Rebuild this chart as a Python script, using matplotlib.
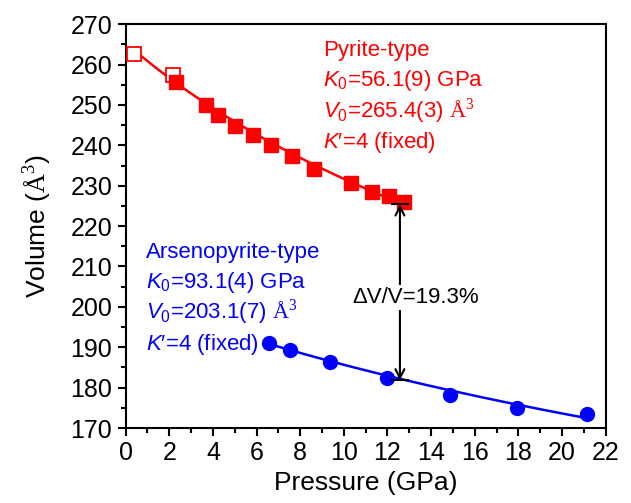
import numpy as np
import matplotlib
matplotlib.use("Agg")
import matplotlib.pyplot as plt
from matplotlib.ticker import MultipleLocator

# ---- data ----
pyr_open_p = [0.37, 2.16]
pyr_open_v = [262.7, 257.3]
pyr_p = [2.33, 3.69, 4.24, 5.00, 5.83, 6.65, 7.61, 8.64, 10.35, 11.28, 12.05, 12.75]
pyr_v = [255.7, 249.9, 247.4, 244.8, 242.6, 240.0, 237.4, 234.1, 230.7, 228.5, 227.4, 226.0]
ars_p = [6.57, 7.52, 9.37, 11.96, 14.87, 17.93, 21.16]
ars_v = [191.1, 189.4, 186.3, 182.3, 178.3, 174.9, 173.5]

# EOS fit parameters (3rd-order Birch-Murnaghan, K'=4)
pyr_K0, pyr_V0 = 56.1, 265.4
ars_K0, ars_V0 = 93.1, 203.1
pyr_prange = (0.3, 12.8)
ars_prange = (6.5, 21.2)

xticks = list(range(0, 23, 2))
yticks = list(range(170, 271, 10))


def bm3_curve(K0, V0, prange):
    v = np.linspace(V0, V0 * 0.75, 2000)
    eta = V0 / v
    p = 1.5 * K0 * (eta ** (7 / 3) - eta ** (5 / 3))
    pp = np.linspace(prange[0], prange[1], 200)
    vv = np.interp(pp, p, v)
    return pp, vv


plt.rcParams['font.family'] = ['Liberation Sans', 'DejaVu Sans']
plt.rcParams['mathtext.fontset'] = 'custom'
plt.rcParams['mathtext.rm'] = 'Liberation Sans'
plt.rcParams['mathtext.it'] = 'Liberation Sans:italic'
plt.rcParams['mathtext.sf'] = 'Liberation Serif'

fig = plt.figure(figsize=(6.31, 5.03), dpi=100)
ax = fig.add_axes([0.199, 0.149, 0.761, 0.803])

RED = '#ff0000'
BLUE = '#0000ff'

pp, vv = bm3_curve(pyr_K0, pyr_V0, pyr_prange)
ax.plot(pp, vv, color=RED, lw=1.8, zorder=2)
pp, vv = bm3_curve(ars_K0, ars_V0, ars_prange)
ax.plot(pp, vv, color=BLUE, lw=1.8, zorder=2)

ax.plot(pyr_open_p, pyr_open_v, 's', ms=9.5, mfc='white', mec=RED, mew=1.3, ls='none', zorder=3)
ax.plot(pyr_p, pyr_v, 's', ms=9.5, mfc=RED, mec=RED, ls='none', zorder=3)
ax.plot(ars_p, ars_v, 'o', ms=10, mfc=BLUE, mec=BLUE, ls='none', zorder=3)

# arrow for volume collapse
xa = 12.57
ax.annotate('', xy=(xa, 225.4), xytext=(xa, 181.8),
            arrowprops=dict(arrowstyle='<->', color='black', lw=1.5, mutation_scale=16,
                            shrinkA=0, shrinkB=0), zorder=4)
ax.plot([xa - 0.38, xa + 0.38], [225.4, 225.4], color='black', lw=1.5, zorder=4)
ax.plot([xa - 0.38, xa + 0.38], [181.8, 181.8], color='black', lw=1.5, zorder=4)
ax.text(13.27, 202.3, 'ΔV/V=19.3%', fontsize=16, ha='center', va='center', color='black',
        bbox=dict(facecolor='white', edgecolor='none', pad=1.5), zorder=5)

# annotations
fs = 16
x0 = 9.05
ax.text(x0, 263.4, 'Pyrite-type', fontsize=fs, color=RED, va='center')
ax.text(x0, 256.0, r'$K_{\mathit{0}}$=56.1(9) GPa', fontsize=fs, color=RED, va='center')
ax.text(x0, 248.5, r'$V_{\mathit{0}}$=265.4(3) $\mathsf{Å}^{\mathsf{3}}$', fontsize=fs, color=RED, va='center')
ax.text(x0, 240.6, r'$K$′=4 (fixed)', fontsize=fs, color=RED, va='center')

x1 = 0.95
ax.text(x1, 213.5, 'Arsenopyrite-type', fontsize=fs, color=BLUE, va='center')
ax.text(x1, 206.0, r'$K_{\mathit{0}}$=93.1(4) GPa', fontsize=fs, color=BLUE, va='center')
ax.text(x1, 198.6, r'$V_{\mathit{0}}$=203.1(7) $\mathsf{Å}^{\mathsf{3}}$', fontsize=fs, color=BLUE, va='center')
ax.text(x1, 190.7, r'$K$′=4 (fixed)', fontsize=fs, color=BLUE, va='center')

ax.set_xlim(0, 22)
ax.set_ylim(170, 270)
ax.set_xticks(xticks)
ax.set_yticks(yticks)
ax.xaxis.set_minor_locator(MultipleLocator(1))
ax.yaxis.set_minor_locator(MultipleLocator(5))
ax.tick_params(which='both', direction='out', top=False, right=False, width=1.5, labelsize=18)
ax.tick_params(which='major', length=6)
ax.tick_params(which='minor', length=3.5)
for s in ax.spines.values():
    s.set_linewidth(1.5)

ax.set_xlabel('Pressure (GPa)', fontsize=19, labelpad=4)
ax.set_ylabel(r'Volume ($\mathsf{Å}^{\mathsf{3}}$)', fontsize=19, labelpad=12)

fig.savefig('out.png', dpi=100, facecolor='white')
